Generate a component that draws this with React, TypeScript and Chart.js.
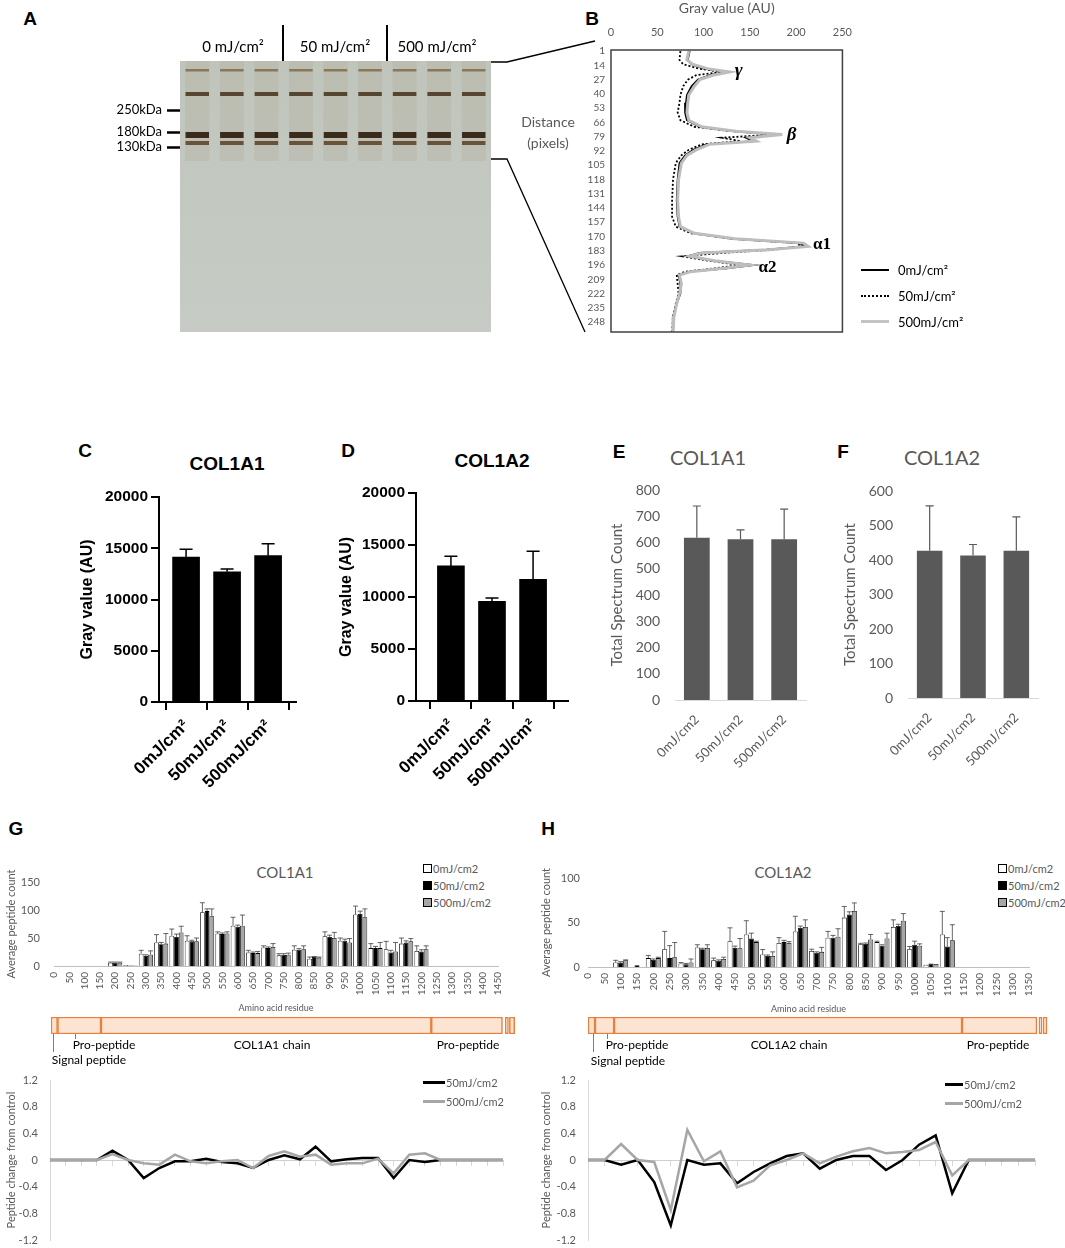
import React, { useEffect, useRef } from 'react';
import { Chart, registerables } from 'chart.js';

Chart.register(...registerables);

const SANS = 'Lato, "Open Sans", sans-serif';
const ARIAL = '"Liberation Sans", Arial, sans-serif';
const SERIF = '"Liberation Serif", "DejaVu Serif", serif';

Chart.defaults.font.family = SANS;
Chart.defaults.color = '#595959';

// ---- A: gel ----
const LANES = ['1', '2', '3', '4', '5', '6', '7', '8', '9'];
const LANE_GROUPS = ['0 mJ/cm²', '50 mJ/cm²', '500 mJ/cm²'];
const MARKER_LABELS = ['250kDa', '180kDa', '130kDa'];
const MARKER_POS = [49, 71, 86];
const BAND_TOP = [8, 31, 71, 80];
const BAND_BOTTOM = [10.5, 35, 77, 84];

// ---- B: densitometry profile ----
const DOSES = ['0mJ/cm²', '50mJ/cm²', '500mJ/cm²'];
const DIST_TICKS = [1, 14, 27, 40, 53, 66, 79, 92, 105, 118, 131, 144, 157, 170, 183, 196, 209, 222, 235, 248];
const PROFILE_DIST = [1, 9, 13, 17, 20, 23, 27, 33, 41, 48, 57, 64, 70, 74, 77, 80, 83, 86, 91, 96, 103, 118, 137, 152, 161, 167, 172, 176, 179, 182, 185, 188, 192, 196, 199, 202, 205, 213, 222, 231, 243, 257];
const PROFILE_0 = [85, 83, 87, 100, 125, 107, 94, 87, 82, 81, 80, 82, 96, 132, 179, 146, 154, 103, 89, 80, 74, 72, 71, 72, 74, 89, 132, 204, 209, 168, 96, 83, 110, 154, 125, 85, 73, 75, 75, 71, 68, 67];
const PROFILE_50 = [75, 74, 78, 95, 120, 92, 83, 78, 75, 74, 72, 75, 90, 130, 176, 120, 140, 98, 84, 76, 70, 67, 66, 66, 70, 86, 130, 200, 206, 175, 120, 77, 105, 140, 112, 80, 71, 72, 73, 70, 67, 66];
const PROFILE_500 = [84, 82, 88, 104, 128, 110, 96, 90, 84, 83, 82, 84, 98, 135, 185, 150, 157, 106, 92, 82, 76, 73, 72, 73, 75, 90, 134, 208, 213, 170, 98, 85, 112, 150, 122, 86, 74, 76, 74, 71, 68, 67];
const PEAK_NAMES = ['γ', 'β', 'α1', 'α2'];
const PEAK_VALUE = [138, 195, 228, 169];
const PEAK_DIST = [19.6, 77.5, 177, 198];

// ---- C-F: totals ----
const C_VALUES = [14150, 12710, 14280];
const C_ERR = [750, 265, 1170];
const D_VALUES = [12990, 9585, 11710];
const D_ERR = [935, 320, 2700];
const MS_DOSES = ['0mJ/cm2', '50mJ/cm2', '500mJ/cm2'];
const E_VALUES = [618, 612, 612];
const E_ERR = [121, 36, 115];
const F_VALUES = [427, 413, 427];
const F_ERR = [130, 32, 98];

// ---- G: COL1A1 peptides ----
const G_RESIDUES = ['0', '50', '100', '150', '200', '250', '300', '350', '400', '450', '500', '550', '600', '650', '700', '750', '800', '850', '900', '950', '1000', '1050', '1100', '1150', '1200', '1250', '1300', '1350', '1400', '1450'];
const G_0 = [null, null, null, null, 6, 2, 22, 42, 54, 45, 96, 58, 72, 24, 33, 19, 29, 13, 53, 45, 92, 32, 30, 40, 27, null, null, null, null, null];
const G_0_ERR = [0, 0, 0, 0, 1, 0, 6, 14, 12, 9, 17, 3, 15, 4, 3, 3, 7, 3, 8, 5, 15, 8, 14, 10, 9, 0, 0, 0, 0, 0];
const G_50 = [null, null, null, null, 6, 1, 18, 39, 52, 44, 98, 57, 70, 23, 32, 20, 29, 16, 52, 45, 93, 32, 24, 42, 26, null, null, null, null, null];
const G_50_ERR = [0, 0, 0, 0, 1, 0, 2, 3, 5, 2, 4, 2, 3, 2, 2, 2, 2, 1, 3, 3, 5, 3, 4, 3, 3, 0, 0, 0, 0, 0];
const G_500 = [null, null, null, null, 6, 1, 20, 40, 60, 44, 89, 58, 72, 23, 34, 20, 30, 15, 50, 42, 87, 32, 26, 44, 30, null, null, null, null, null];
const G_500_ERR = [0, 0, 0, 0, 1, 0, 7, 18, 11, 6, 13, 3, 19, 3, 6, 3, 6, 1, 10, 7, 15, 10, 16, 5, 6, 0, 0, 0, 0, 0];
const G_CHANGE_50 = [0, 0, 0, 0, 0.14, 0, -0.27, -0.12, -0.02, -0.02, 0.02, -0.03, -0.05, -0.12, 0, 0.07, 0.01, 0.2, -0.02, 0.01, 0.03, 0.03, -0.27, 0, -0.03, 0, 0, 0, 0, 0];
const G_CHANGE_500 = [0, 0, 0, 0, 0.09, 0, -0.05, -0.07, 0.08, -0.02, -0.05, -0.02, 0, -0.12, 0.06, 0.13, 0.05, 0.08, -0.07, -0.05, -0.05, 0.02, -0.2, 0.08, 0.1, 0, 0, 0, 0, 0];
// domains (residue start, end)
const G_DOMAIN_START = [1, 22, 161, 1218, 1455, 1468];
const G_DOMAIN_END = [22, 161, 1218, 1446, 1465, 1485];

// ---- H: COL1A2 peptides ----
const H_RESIDUES = ['0', '50', '100', '150', '200', '250', '300', '350', '400', '450', '500', '550', '600', '650', '700', '750', '800', '850', '900', '950', '1000', '1050', '1100', '1150', '1200', '1250', '1300', '1350'];
const H_0 = [null, null, 5, null, 10, 20, 4, 22, 7.5, 29, 36.5, 14, 27, 40, 18, 33, 55.5, 25.6, 28, 45, 20, 2.6, 36.5, null, null, null, null, null];
const H_0_ERR = [0, 0, 2.5, 0, 3, 20, 1, 3, 2.5, 15, 15.5, 5.6, 6, 17, 2, 7, 12.5, 1, 1, 8, 3, 0, 26, 0, 0, 0, 0, 0];
const H_50 = [null, null, 5, 2, 8, 10, 3, 20, 7, 21.5, 32, 12.5, 28, 44, 16, 33, 59, 26, 24, 46, 25, 3.8, 23, null, null, null, null, null];
const H_50_ERR = [0, 0, 1, 0, 1, 14, 1, 1, 1, 2, 6, 1, 2, 2, 1, 2.5, 3, 1, 1, 2, 4, 0, 10, 0, 0, 0, 0, 0];
const H_500 = [null, null, 7.5, null, 10, 11, 5, 21.5, 9, 21, 28, 12.5, 27, 45, 17, 34, 63, 31, 32, 52, 24, 3.4, 30, null, null, null, null, null];
const H_500_ERR = [0, 0, 0.5, 0, 1, 16.5, 4, 3.5, 2, 11, 1, 4.5, 1.5, 8, 5, 9, 9, 5.5, 6, 8, 2, 0, 17.5, 0, 0, 0, 0, 0];
const H_CHANGE_50 = [0, 0, -0.07, 0, -0.33, -0.98, 0, -0.07, -0.05, -0.35, -0.18, -0.05, 0.06, 0.1, -0.13, 0, 0.06, 0.06, -0.15, 0, 0.23, 0.37, -0.5, 0, 0, 0, 0, 0];
const H_CHANGE_500 = [0, 0, 0.24, 0, -0.03, -0.75, 0.45, -0.02, 0.13, -0.41, -0.31, -0.08, 0, 0.1, -0.05, 0.05, 0.13, 0.18, 0.1, 0.12, 0.15, 0.27, -0.23, 0, 0, 0, 0, 0];
const H_DOMAIN_START = [1, 22, 79, 1119, 1349, 1361];
const H_DOMAIN_END = [22, 79, 1119, 1343, 1358, 1373];

const CHANGE_TICKS = [-1.2, -0.8, -0.4, 0, 0.4, 0.8, 1.2];

// top padding inside every canvas; large enough to swallow Chart.js' own tick padding
const PAD = 30;

// ---------- plugins ----------
const errorBars = {
  id: 'errorBars',
  afterDatasetsDraw(chart: any, _args: any, opts: any) {
    const { ctx } = chart;
    chart.data.datasets.forEach((ds: any, i: number) => {
      if (!ds.errors) return;
      const meta = chart.getDatasetMeta(i);
      const yScale = chart.scales[meta.yAxisID];
      meta.data.forEach((bar: any, j: number) => {
        const e = ds.errors[j];
        const parsed = meta.controller.getParsed(j);
        if (!e || parsed == null || parsed.y == null || isNaN(parsed.y)) return;
        const yTop = yScale.getPixelForValue(parsed.y + e);
        ctx.save();
        ctx.strokeStyle = opts.color || '#000';
        ctx.lineWidth = opts.width || 1;
        ctx.beginPath();
        ctx.moveTo(bar.x, bar.y);
        ctx.lineTo(bar.x, yTop);
        ctx.moveTo(bar.x - (opts.cap || 3), yTop);
        ctx.lineTo(bar.x + (opts.cap || 3), yTop);
        ctx.stroke();
        ctx.restore();
      });
    });
  },
};

const frame = {
  id: 'frame',
  afterDraw(chart: any, _args: any, opts: any) {
    const { ctx, chartArea } = chart;
    ctx.save();
    ctx.strokeStyle = opts.color || '#595959';
    ctx.lineWidth = opts.width || 1;
    ctx.strokeRect(chartArea.left, chartArea.top, chartArea.right - chartArea.left, chartArea.bottom - chartArea.top);
    ctx.restore();
  },
};

const areaFill = {
  id: 'areaFill',
  beforeDatasetsDraw(chart: any, _args: any, opts: any) {
    const { ctx, chartArea } = chart;
    const g = ctx.createLinearGradient(0, chartArea.top, 0, chartArea.bottom);
    g.addColorStop(0, opts.top);
    g.addColorStop(1, opts.bottom);
    ctx.save();
    ctx.fillStyle = g;
    ctx.fillRect(chartArea.left, chartArea.top, chartArea.right - chartArea.left, chartArea.bottom - chartArea.top);
    ctx.restore();
  },
};

const peakLabels = {
  id: 'peakLabels',
  afterDatasetsDraw(chart: any) {
    const { ctx, scales } = chart;
    ctx.save();
    ctx.fillStyle = '#000';
    ctx.textAlign = 'center';
    ctx.textBaseline = 'middle';
    PEAK_NAMES.forEach((name, i) => {
      ctx.font = i < 2 ? `italic bold 19px ${SERIF}` : `bold 17px ${SERIF}`;
      ctx.fillText(name, scales.x.getPixelForValue(PEAK_VALUE[i]), scales.y.getPixelForValue(PEAK_DIST[i]));
    });
    ctx.restore();
  },
};

// ---------- components ----------
const ChartBox: React.FC<{ left: number; top: number; width: number; height: number; make: () => any }> = ({ left, top, width, height, make }) => {
  const canvasRef = useRef<HTMLCanvasElement | null>(null);
  const chartRef = useRef<Chart | null>(null);
  useEffect(() => {
    if (!canvasRef.current) return;
    if (chartRef.current) chartRef.current.destroy();
    chartRef.current = new Chart(canvasRef.current, make());
    return () => {
      if (chartRef.current) {
        chartRef.current.destroy();
        chartRef.current = null;
      }
    };
  }, []);
  return (
    <div style={{ position: 'absolute', left, top, width, height }}>
      <canvas ref={canvasRef}></canvas>
    </div>
  );
};

const Txt: React.FC<{ x: number; y: number; size?: number; color?: string; weight?: number; family?: string; align?: 'left' | 'center' | 'right'; italic?: boolean; children: React.ReactNode }> = ({ x, y, size = 13, color = '#000', weight = 400, family = SANS, align = 'center', italic = false, children }) => {
  const tx = align === 'center' ? '-50%' : align === 'right' ? '-100%' : '0';
  return (
    <div style={{ position: 'absolute', left: x, top: y, transform: `translate(${tx}, -50%)`, fontSize: size, color, fontWeight: weight, fontFamily: family, fontStyle: italic ? 'italic' : 'normal', whiteSpace: 'nowrap', lineHeight: 1 }}>
      {children}
    </div>
  );
};

const Rule: React.FC<{ x: number; y: number; w: number; h: number; color: string }> = ({ x, y, w, h, color }) => (
  <div style={{ position: 'absolute', left: x, top: y, width: w, height: h, background: color }} />
);

// ---------- chart configs ----------
const noHelp = { legend: { display: false }, tooltip: { enabled: false } };
const noGrid = { display: false, drawTicks: false };

const gelConfig = () => {
  const bandColors = ['#857457', '#4a3a25', '#2a1b0e', '#5f4a30'];
  return {
    type: 'bar',
    data: {
      labels: LANES,
      datasets: [
        { data: LANES.map(() => [0, 100]), backgroundColor: 'rgba(165,145,110,0.14)', grouped: false, barPercentage: 0.7, categoryPercentage: 1 },
        ...BAND_TOP.map((t, b) => ({
          data: LANES.map(() => [t, BAND_BOTTOM[b]]),
          backgroundColor: bandColors[b],
          grouped: false,
          barPercentage: 0.68,
          categoryPercentage: 1,
          borderSkipped: false,
        })),
      ],
    },
    options: {
      animation: false,
      responsive: true,
      maintainAspectRatio: false,
      layout: { padding: { top: PAD, bottom: 15, right: 0, left: 0 } },
      plugins: { ...noHelp, areaFill: { top: '#c0c5bc', bottom: '#c6cbc5' } },
      scales: {
        x: { display: false },
        y: {
          reverse: true,
          min: 0,
          max: 271,
          afterBuildTicks: (s: any) => { s.ticks = MARKER_POS.map((v) => ({ value: v })); },
          ticks: { callback: (_v: any, i: number) => MARKER_LABELS[i], color: '#000', font: { size: 13 }, padding: 5 },
          grid: { drawOnChartArea: false, drawTicks: true, tickLength: 13, tickColor: '#000', tickWidth: 2.5 },
          border: { display: false },
          afterFit: (s: any) => { s.width = 90; },
        },
      },
    },
    plugins: [areaFill],
  };
};

const profileConfig = () => {
  const pts = (vals: number[]) => vals.map((v, i) => ({ x: v, y: PROFILE_DIST[i] }));
  return {
    type: 'scatter',
    data: {
      datasets: [
        { label: DOSES[2], data: pts(PROFILE_500), showLine: true, borderColor: '#bdbdbd', borderWidth: 3, pointRadius: 0 },
        { label: DOSES[0], data: pts(PROFILE_0), showLine: true, borderColor: '#000', borderWidth: 1.8, pointRadius: 0 },
        { label: DOSES[1], data: pts(PROFILE_50), showLine: true, borderColor: '#000', borderWidth: 1.8, borderDash: [2, 2], pointRadius: 0 },
      ],
    },
    options: {
      animation: false,
      responsive: true,
      maintainAspectRatio: false,
      layout: { padding: { top: 0, right: 20, bottom: 14, left: 0 } },
      plugins: { ...noHelp, frame: { color: '#404040', width: 1.5 } },
      scales: {
        x: {
          position: 'top',
          min: 0,
          max: 250,
          ticks: { stepSize: 50, font: { size: 11 }, padding: 11 },
          grid: noGrid,
          border: { display: false },
          title: { display: true, text: 'Gray value (AU)', font: { size: 14 }, padding: { top: 0, bottom: 2 } },
          afterFit: (s: any) => { s.height = 50; },
        },
        y: {
          reverse: true,
          min: 0,
          max: 257,
          afterBuildTicks: (s: any) => { s.ticks = DIST_TICKS.map((v) => ({ value: v })); },
          ticks: { autoSkip: false, font: { size: 10 }, padding: 6 },
          grid: noGrid,
          border: { display: false },
          afterFit: (s: any) => { s.width = 71; },
        },
      },
    },
    plugins: [frame, peakLabels],
  };
};

const prismConfig = (values: number[], errs: number[], xmin: number, xmax: number, yAxisW: number, xAxisH: number, titleShift: number) => ({
  type: 'bar',
  data: {
    datasets: [{ data: values.map((v, i) => ({ x: i, y: v })), errors: errs, backgroundColor: '#000', barThickness: 27 }],
  },
  options: {
    animation: false,
    responsive: true,
    maintainAspectRatio: false,
    layout: { padding: { top: PAD, right: 6, left: 0, bottom: 0 } },
    plugins: { ...noHelp, errorBars: { color: '#000', width: 1.5, cap: 6.5 } },
    scales: {
      x: {
        type: 'linear',
        offset: false,
        min: xmin,
        max: xmax,
        afterBuildTicks: (s: any) => { s.ticks = DOSES.map((_d, i) => ({ value: i })); },
        ticks: { callback: (v: any) => DOSES[v], minRotation: 45, maxRotation: 45, color: '#000', font: { family: ARIAL, weight: 'bold', size: 17 }, padding: 6 },
        grid: { drawOnChartArea: false, drawTicks: true, tickLength: 8, color: '#000', lineWidth: 2 },
        border: { color: '#000', width: 2 },
        afterFit: (s: any) => { s.height = xAxisH; },
      },
      y: {
        min: 0,
        max: 20000,
        ticks: { stepSize: 5000, callback: (v: any) => String(v), color: '#000', font: { family: ARIAL, weight: 'bold', size: 15.5 }, padding: 3 },
        grid: { drawOnChartArea: false, drawTicks: true, tickLength: 8, color: '#000', lineWidth: 2 },
        border: { color: '#000', width: 2 },
        title: { display: true, text: 'Gray value (AU)', color: '#000', font: { family: ARIAL, weight: 'bold', size: 16 }, padding: { top: titleShift, bottom: 0 } },
        afterFit: (s: any) => { s.width = yAxisW; },
      },
    },
  },
  plugins: [errorBars],
});

const spectrumConfig = (values: number[], errs: number[], yMax: number) => ({
  type: 'bar',
  data: {
    labels: MS_DOSES,
    datasets: [{ data: values, errors: errs, backgroundColor: '#595959', categoryPercentage: 1, barPercentage: 0.59 }],
  },
  options: {
    animation: false,
    responsive: true,
    maintainAspectRatio: false,
    layout: { padding: { top: PAD, right: 6, left: 0, bottom: 0 } },
    plugins: { ...noHelp, errorBars: { color: '#595959', width: 1.2, cap: 4 } },
    scales: {
      x: {
        ticks: { minRotation: 45, maxRotation: 45, font: { size: 13 }, padding: 12 },
        grid: noGrid,
        border: { color: '#d9d9d9' },
        afterFit: (s: any) => { s.height = 75; },
      },
      y: {
        min: 0,
        max: yMax,
        ticks: { stepSize: 100, font: { size: 14 }, padding: 15 },
        grid: noGrid,
        border: { display: false },
        title: { display: true, text: 'Total Spectrum Count', font: { size: 15 }, padding: { top: 8, bottom: 0 } },
        afterFit: (s: any) => { s.width = 75; },
      },
    },
  },
  plugins: [errorBars],
});

const peptideConfig = (cats: string[], s0: any[], e0: number[], s50: any[], e50: number[], s500: any[], e500: number[], yMax: number, yAxisW: number, labelPad: number, titleShift: number) => ({
  type: 'bar',
  data: {
    labels: cats,
    datasets: [
      { label: '0mJ/cm2', data: s0, errors: e0, backgroundColor: '#ffffff', borderColor: '#000', borderWidth: 0.8 },
      { label: '50mJ/cm2', data: s50, errors: e50, backgroundColor: '#000000', borderColor: '#000', borderWidth: 0.8 },
      { label: '500mJ/cm2', data: s500, errors: e500, backgroundColor: '#a6a6a6', borderColor: '#000', borderWidth: 0.8 },
    ],
  },
  options: {
    animation: false,
    responsive: true,
    maintainAspectRatio: false,
    layout: { padding: { top: PAD, right: 12, left: 0, bottom: 0 } },
    datasets: { bar: { categoryPercentage: 0.92, barPercentage: 1 } },
    plugins: { ...noHelp, errorBars: { color: '#404040', width: 0.8, cap: 2.5 } },
    scales: {
      x: {
        offset: false,
        grid: { display: false, drawTicks: false, offset: false },
        border: { color: '#bfbfbf' },
        ticks: { autoSkip: false, minRotation: 90, maxRotation: 90, font: { size: 10 }, padding: 6 },
        title: { display: true, text: 'Amino acid residue', font: { size: 9 }, padding: { top: 2, bottom: 3 } },
        afterFit: (s: any) => { s.height = 50; },
      },
      y: {
        min: 0,
        max: yMax,
        ticks: { stepSize: 50, font: { size: 11 }, padding: labelPad },
        grid: noGrid,
        border: { display: false },
        title: { display: true, text: 'Average peptide count', font: { size: 11 }, padding: { top: titleShift, bottom: 0 } },
        afterFit: (s: any) => { s.width = yAxisW; },
      },
    },
  },
  plugins: [errorBars],
});

const changeConfig = (cats: string[], s50: number[], s500: number[], yAxisW: number, titleShift: number) => ({
  type: 'line',
  data: {
    labels: cats,
    datasets: [
      { label: '500mJ/cm2', data: s500, borderColor: '#a6a6a6', borderWidth: 2.5, pointRadius: 0, tension: 0 },
      { label: '50mJ/cm2', data: s50, borderColor: '#000000', borderWidth: 2.5, pointRadius: 0, tension: 0 },
    ],
  },
  options: {
    animation: false,
    responsive: true,
    maintainAspectRatio: false,
    layout: { padding: { top: PAD, right: 10, left: 0, bottom: 20 } },
    plugins: { ...noHelp },
    scales: {
      x: {
        offset: false,
        position: { y: 0 },
        ticks: { display: false },
        grid: { drawOnChartArea: false, drawTicks: true, tickLength: 5, color: '#d9d9d9', offset: false },
        border: { color: '#d0d0d0' },
        afterFit: (s: any) => { s.height = 0; },
      },
      y: {
        min: -1.2,
        max: 1.2,
        afterBuildTicks: (s: any) => { s.ticks = CHANGE_TICKS.map((v) => ({ value: v })); },
        ticks: { font: { size: 11 }, padding: 12 },
        grid: noGrid,
        border: { color: '#d9d9d9' },
        title: { display: true, text: 'Peptide change from control', font: { size: 11 }, padding: { top: titleShift, bottom: 0 } },
        afterFit: (s: any) => { s.width = yAxisW; },
      },
    },
  },
});

const domainConfig = (starts: number[], ends: number[], maxRes: number) => ({
  type: 'bar',
  data: {
    labels: ['chain'],
    datasets: starts.map((s, i) => ({
      data: [[s, ends[i]]],
      backgroundColor: '#fce3d2',
      borderColor: '#e8803c',
      borderWidth: 1.5,
      borderSkipped: false,
      grouped: false,
      barPercentage: 1,
      categoryPercentage: 1,
    })),
  },
  options: {
    indexAxis: 'y',
    animation: false,
    responsive: true,
    maintainAspectRatio: false,
    layout: { padding: 2 },
    plugins: { ...noHelp },
    scales: {
      x: { type: 'linear', min: 1, max: maxRes, display: false },
      y: { display: false },
    },
  },
});

// ---------- legends ----------
const BarLegend: React.FC<{ x: number; y: number }> = ({ x, y }) => {
  const fills = ['#ffffff', '#000000', '#a6a6a6'];
  return (
    <>
      {MS_DOSES.map((d, i) => (
        <React.Fragment key={d}>
          <div style={{ position: 'absolute', left: x, top: y + i * 17 - 4, width: 7, height: 7, background: fills[i], border: '1px solid #000' }} />
          <Txt x={x + 10} y={y + i * 17} size={11} color="#595959" align="left">{d}</Txt>
        </React.Fragment>
      ))}
    </>
  );
};

const LineLegend: React.FC<{ x: number; y: number; w: number }> = ({ x, y, w }) => {
  const cols = ['#000000', '#a6a6a6'];
  return (
    <>
      {MS_DOSES.slice(1).map((d, i) => (
        <React.Fragment key={d}>
          <Rule x={x} y={y + i * 19 - 1.5} w={w} h={3} color={cols[i]} />
          <Txt x={x + w + 1} y={y + i * 19} size={11} color="#595959" align="left">{d}</Txt>
        </React.Fragment>
      ))}
    </>
  );
};

const App: React.FC = () => {
  const letter = { size: 19, weight: 700, family: ARIAL };
  return (
    <div style={{ position: 'absolute', left: 0, top: 0, width: 1065, height: 1248, background: '#fff', overflow: 'hidden' }}>
      {/* panel letters */}
      <Txt x={30} y={18} {...letter}>A</Txt>
      <Txt x={592} y={18} {...letter}>B</Txt>
      <Txt x={85} y={450} {...letter}>C</Txt>
      <Txt x={348} y={450} {...letter}>D</Txt>
      <Txt x={619} y={451} {...letter}>E</Txt>
      <Txt x={843} y={451} {...letter}>F</Txt>
      <Txt x={16} y={828} {...letter}>G</Txt>
      <Txt x={548} y={828} {...letter}>H</Txt>

      {/* A */}
      <ChartBox left={90} top={61 - PAD} width={401} height={PAD + 271 + 15} make={gelConfig} />
      <Txt x={233} y={46} size={15}>{LANE_GROUPS[0]}</Txt>
      <Txt x={335} y={46} size={15}>{LANE_GROUPS[1]}</Txt>
      <Txt x={437} y={46} size={15}>{LANE_GROUPS[2]}</Txt>
      <Rule x={282} y={25} w={1.5} h={36} color="#000" />
      <Rule x={386} y={25} w={1.5} h={36} color="#000" />
      <svg style={{ position: 'absolute', left: 0, top: 0 }} width={1065} height={400}>
        <polyline points="491,62 507,62 595,41" fill="none" stroke="#000" strokeWidth={1.3} />
        <polyline points="491,159 507,159 585,332" fill="none" stroke="#000" strokeWidth={1.3} />
      </svg>

      {/* B */}
      <ChartBox left={540} top={0} width={323} height={346} make={profileConfig} />
      <Txt x={548} y={122} size={14} color="#595959">Distance</Txt>
      <Txt x={548} y={143} size={14} color="#595959">(pixels)</Txt>
      <Rule x={861} y={269} w={28} h={2} color="#000" />
      <div style={{ position: 'absolute', left: 861, top: 295, width: 28, height: 0, borderTop: '2px dotted #000' }} />
      <Rule x={861} y={320} w={28} h={3} color="#c4c4c4" />
      <Txt x={898} y={270} size={13} align="left">{DOSES[0]}</Txt>
      <Txt x={898} y={296} size={13} align="left">{DOSES[1]}</Txt>
      <Txt x={898} y={322} size={13} align="left">{DOSES[2]}</Txt>

      {/* C, D */}
      <Txt x={227} y={463} size={19} weight={700} family={ARIAL}>COL1A1</Txt>
      <ChartBox left={55} top={497 - PAD} width={247} height={PAD + 205 + 95} make={() => prismConfig(C_VALUES, C_ERR, -0.66, 2.68, 104, 95, 23)} />
      <Txt x={492} y={460} size={19} weight={700} family={ARIAL}>COL1A2</Txt>
      <ChartBox left={315} top={493 - PAD} width={259} height={PAD + 208 + 95} make={() => prismConfig(D_VALUES, D_ERR, -0.85, 2.85, 101, 95, 22)} />

      {/* E, F */}
      <Txt x={708} y={457} size={20} color="#595959">COL1A1</Txt>
      <ChartBox left={600} top={490 - PAD} width={212} height={PAD + 210 + 75} make={() => spectrumConfig(E_VALUES, E_ERR, 800)} />
      <Txt x={942} y={457} size={20} color="#595959">COL1A2</Txt>
      <ChartBox left={833} top={491 - PAD} width={211} height={PAD + 207 + 75} make={() => spectrumConfig(F_VALUES, F_ERR, 600)} />

      {/* G */}
      <Txt x={285} y={872} size={15} color="#595959">COL1A1</Txt>
      <BarLegend x={423} y={868} />
      <ChartBox left={0} top={882 - PAD} width={516} height={PAD + 84 + 50} make={() => peptideConfig(G_RESIDUES, G_0, G_0_ERR, G_50, G_50_ERR, G_500, G_500_ERR, 150, 54, 14, 5)} />
      <ChartBox left={49} top={1015} width={468} height={21} make={() => domainConfig(G_DOMAIN_START, G_DOMAIN_END, 1486)} />
      <Rule x={53} y={1034} w={1} h={18} color="#7f7f7f" />
      <Rule x={75} y={1034} w={1} h={5} color="#7f7f7f" />
      <Txt x={104} y={1045} size={12}>Pro-peptide</Txt>
      <Txt x={272} y={1045} size={12}>COL1A1 chain</Txt>
      <Txt x={468} y={1045} size={12}>Pro-peptide</Txt>
      <Txt x={89} y={1060} size={12}>Signal peptide</Txt>
      <ChartBox left={0} top={1080 - PAD} width={513} height={PAD + 160 + 20} make={() => changeConfig(G_RESIDUES, G_CHANGE_50, G_CHANGE_500, 50, 5)} />
      <LineLegend x={423} y={1082} w={22} />

      {/* H */}
      <Txt x={783} y={872} size={15} color="#595959">COL1A2</Txt>
      <BarLegend x={998} y={868} />
      <ChartBox left={530} top={878 - PAD} width={517} height={PAD + 89 + 50} make={() => peptideConfig(H_RESIDUES, H_0, H_0_ERR, H_50, H_50_ERR, H_500, H_500_ERR, 100, 58, 8, 10)} />
      <ChartBox left={586} top={1015} width={464} height={21} make={() => domainConfig(H_DOMAIN_START, H_DOMAIN_END, 1376)} />
      <Rule x={593} y={1034} w={1} h={18} color="#7f7f7f" />
      <Rule x={607} y={1034} w={1} h={5} color="#7f7f7f" />
      <Txt x={637} y={1045} size={12}>Pro-peptide</Txt>
      <Txt x={789} y={1045} size={12}>COL1A2 chain</Txt>
      <Txt x={998} y={1045} size={12}>Pro-peptide</Txt>
      <Txt x={628} y={1061} size={12}>Signal peptide</Txt>
      <ChartBox left={530} top={1080 - PAD} width={515} height={PAD + 160 + 20} make={() => changeConfig(H_RESIDUES, H_CHANGE_50, H_CHANGE_500, 58, 10)} />
      <LineLegend x={945} y={1084} w={18} />
    </div>
  );
};

export default App;
